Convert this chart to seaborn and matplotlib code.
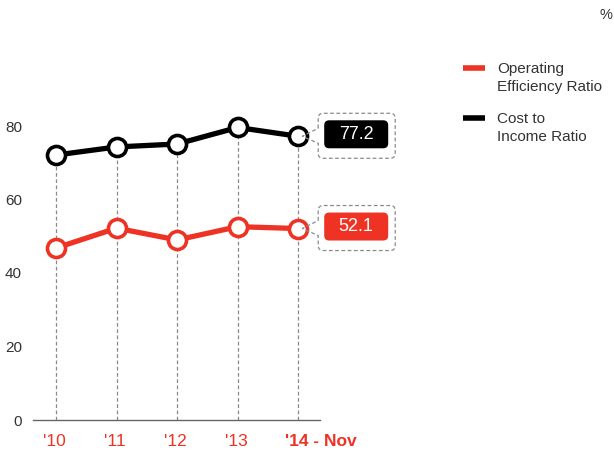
import matplotlib
matplotlib.use("Agg")
import matplotlib.pyplot as plt
import matplotlib.transforms as mtransforms
from matplotlib.path import Path
from matplotlib.patches import PathPatch, FancyBboxPatch
from matplotlib.lines import Line2D
import seaborn as sns
import pandas as pd

years = ["'10", "'11", "'12", "'13", "'14 - Nov"]
operating_efficiency = [46.8, 52.2, 49.0, 52.6, 52.1]
cost_to_income = [72.1, 74.3, 75.1, 79.6, 77.2]
series_names = ["Operating\nEfficiency Ratio", "Cost to\nIncome Ratio"]
y_ticks = [0, 20, 40, 60, 80]

RED = "#ee3224"
BLACK = "#000000"
GRID = "#8a8a8a"
TEXT = "#333333"

sns.set_theme(style="white")
plt.rcParams["font.family"] = ["Liberation Sans", "DejaVu Sans"]

fig = plt.figure(figsize=(6.14, 4.5), dpi=100)
W, H = 614, 450
# axes box in pixel units
ax_left, ax_right, ax_bottom_px, ax_top_px = 33, 320, 420, 52.5
ax = fig.add_axes([ax_left / W, 1 - ax_bottom_px / H,
                   (ax_right - ax_left) / W, (ax_bottom_px - ax_top_px) / H])

x = list(range(len(years)))
df = pd.DataFrame({
    "x": x * 2,
    "value": operating_efficiency + cost_to_income,
    "series": [series_names[0]] * len(x) + [series_names[1]] * len(x),
})

# dashed drop lines from the upper series down to the axis
for xi, top in zip(x, cost_to_income):
    ax.plot([xi, xi], [0, top], color=GRID, lw=0.9, ls=(0, (3, 2)), zorder=1)

for name, color in zip(series_names, [RED, BLACK]):
    sns.lineplot(data=df[df["series"] == name], x="x", y="value", ax=ax,
                 color=color, lw=3.8, marker="o", markersize=13,
                 markerfacecolor="white", markeredgecolor=color,
                 markeredgewidth=2.6, zorder=3, legend=False)

ax.set_xlim(-0.38, 4.36)
ax.set_ylim(0, 100)
ax.set_xlabel("")
ax.set_ylabel("")
ax.set_yticks(y_ticks)
ax.set_yticklabels([str(v) for v in y_ticks], fontsize=11, color=TEXT)
ax.tick_params(axis="y", length=0, pad=8)

# year labels start slightly left of each point
ax.set_xticks(x)
ax.set_xticklabels(years, fontsize=12.5, color=RED, ha="left")
ax.tick_params(axis="x", length=0, pad=10)
shift = mtransforms.ScaledTranslation(-13 / 100, 0, fig.dpi_scale_trans)
for lbl in ax.get_xticklabels():
    lbl.set_transform(lbl.get_transform() + shift)
ax.get_xticklabels()[-1].set_fontweight("bold")

for s in ["top", "right", "left"]:
    ax.spines[s].set_visible(False)
ax.spines["bottom"].set_color("#666666")
ax.spines["bottom"].set_linewidth(1.0)
ax.patch.set_alpha(0)


def callout(xv, yv, text, face):
    """Dashed speech-bubble outline plus filled value label, sized in pixels."""
    tr = fig.dpi_scale_trans + mtransforms.ScaledTranslation(xv, yv, ax.transData)
    L, R, T, B, r = 20, 97, 23, -22, 5
    p1, p2, tip = 8, -7, (4, 0)
    pts = [
        (L, p1), (L, T - r), (L, T), (L + r, T), (R - r, T), (R, T), (R, T - r),
        (R, B + r), (R, B), (R - r, B), (L + r, B), (L, B), (L, B + r),
        (L, p2), tip, (L, p1),
    ]
    codes = [Path.MOVETO, Path.LINETO, Path.CURVE3, Path.CURVE3, Path.LINETO,
             Path.CURVE3, Path.CURVE3, Path.LINETO, Path.CURVE3, Path.CURVE3,
             Path.LINETO, Path.CURVE3, Path.CURVE3, Path.LINETO, Path.LINETO,
             Path.LINETO]
    verts = [(a / 100, b / 100) for a, b in pts]
    outline = PathPatch(Path(verts, codes), facecolor="none", edgecolor=GRID,
                        lw=0.9, ls=(0, (3, 2)), transform=tr, clip_on=False,
                        zorder=4)
    ax.add_patch(outline)
    box = FancyBboxPatch((0.26, -0.12), 0.64, 0.28,
                         boxstyle="round,pad=0,rounding_size=0.05",
                         facecolor=face, edgecolor="none", transform=tr,
                         clip_on=False, zorder=5)
    ax.add_patch(box)
    ax.text(0.58, 0.02, text, transform=tr, ha="center", va="center",
            color="white", fontsize=13, zorder=6, clip_on=False)


callout(x[-1], cost_to_income[-1], f"{cost_to_income[-1]:.1f}", BLACK)
callout(x[-1], operating_efficiency[-1], f"{operating_efficiency[-1]:.1f}", RED)

# legend: swatch aligned with the first line of each label
for (name, color, top) in zip(series_names, [RED, BLACK], [68, 118]):
    fig.add_artist(Line2D([463 / W, 485 / W], [1 - top / H, 1 - top / H],
                          color=color, lw=4, solid_capstyle="butt"))
    fig.text(497 / W, 1 - (top - 6) / H, name, ha="left", va="top",
             fontsize=11, color=TEXT, linespacing=1.38)

fig.text(606 / W, 1 - 15 / H, "%", ha="center", va="center",
         fontsize=10.5, color=TEXT)

fig.savefig("out.png", dpi=100)
